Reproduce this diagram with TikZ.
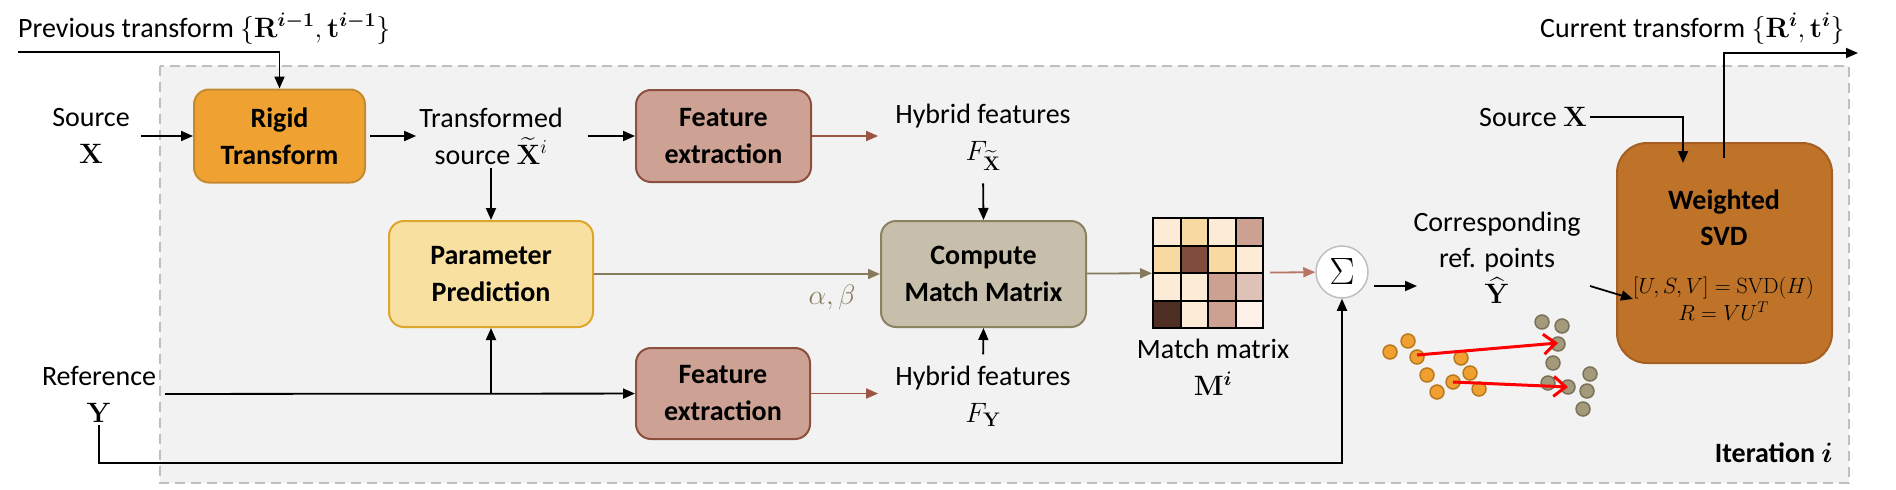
\RequirePackage{fix-cm}
\documentclass[tikz,border=0pt]{standalone}
\usepackage{amsmath}
\usepackage[no-math]{fontspec}
\setmainfont{Carlito}
\usetikzlibrary{arrows.meta}
\definecolor{bgF}{HTML}{F2F2F2}
\definecolor{bgD}{HTML}{BFBFBF}
\definecolor{rigidF}{HTML}{EFA232}
\definecolor{rigidD}{HTML}{C58A30}
\definecolor{featF}{HTML}{CDA193}
\definecolor{featD}{HTML}{8E4F3F}
\definecolor{paramF}{HTML}{F8E0A0}
\definecolor{paramD}{HTML}{DEA62B}
\definecolor{compF}{HTML}{C7BFAC}
\definecolor{compD}{HTML}{8C8262}
\definecolor{svdF}{HTML}{BE7329}
\definecolor{svdD}{HTML}{A65F22}
\definecolor{olive}{HTML}{857A5C}
\definecolor{brownA}{HTML}{9C5545}
\definecolor{brownB}{HTML}{B87563}
\definecolor{ptO}{HTML}{F0A030}
\definecolor{ptOD}{HTML}{B8791E}
\definecolor{ptG}{HTML}{A39A7C}
\definecolor{ptGD}{HTML}{7A7256}
\definecolor{mA}{HTML}{FCEBD7}
\definecolor{mB}{HTML}{F8D9A1}
\definecolor{mC}{HTML}{CDA192}
\definecolor{mD}{HTML}{7F4B3B}
\definecolor{mE}{HTML}{DFC2B7}
\definecolor{mF}{HTML}{4F2F24}
\definecolor{mG}{HTML}{FDF1E9}
\begin{document}
\begin{tikzpicture}[x=1pt,y=-1pt,
  font=\fontsize{28}{37}\selectfont,
  arr/.style={-{Triangle[length=12pt,width=10pt]}, line width=1.8pt},
  box/.style={rectangle, rounded corners=15pt, line width=2pt, align=center,
    font=\fontsize{28}{37}\selectfont\bfseries, inner sep=0pt},
  lab/.style={align=center, inner sep=3pt},
  ptorange/.style={fill=ptO, draw=ptOD, line width=1.5pt},
  ptgray/.style={fill=ptG, draw=ptGD, line width=1.5pt},
  redarr/.style={draw=red, line width=3pt, -{Straight Barb[length=12pt,width=20pt,line width=3pt]}},
  gridl/.style={line width=2pt}
]
\useasboundingbox (0,0) rectangle (1896,490);
% background iteration box
\draw[fill=bgF, draw=bgD, line width=2pt, dash pattern=on 10pt off 6pt] (160,66) rectangle (1849,483);

% nodes
\node[anchor=base west, inner sep=0pt] (prev) at (18,37)
  {Previous transform $\{\mathbf{R}^{\boldsymbol{i-1}},\mathbf{t}^{\boldsymbol{i-1}}\}$};
\coordinate (prevstart) at (18,52);

\node[lab] (srcX) at (91,136) {Source\\$\mathbf{X}$};
\node[box, fill=rigidF, draw=rigidD, minimum width=171pt, minimum height=93pt] (rigid) at (279.5,136) {Rigid\\Transform};
\node[lab] (trans) at (491,136) {Transformed\\source $\widetilde{\mathbf{X}}^{i}$};
\node[box, fill=featF, draw=featD, minimum width=175pt, minimum height=92pt] (feat1) at (723.5,136) {Feature\\extraction};
\node[lab] (hyb1) at (983,137) {Hybrid features\\$F_{\widetilde{\mathbf{X}}}$};

\node[box, fill=paramF, draw=paramD, minimum width=204pt, minimum height=106pt] (param) at (491,274) {Parameter\\Prediction};
\node[box, fill=compF, draw=compD, minimum width=205pt, minimum height=106pt] (comp) at (983.5,274) {Compute\\Match Matrix};
\node[text=olive, anchor=base] (ab) at (832,304) {$\alpha,\beta$};

% match matrix
\foreach \r/\cc/\col in {0/0/mA,0/1/mB,0/2/mA,0/3/mC,
                         1/0/mB,1/1/mD,1/2/mB,1/3/mA,
                         2/0/mA,2/1/mA,2/2/mC,2/3/mE,
                         3/0/mF,3/1/mA,3/2/mC,3/3/mG}
  \fill[\col] ({1153+27.5*\cc},{218+27.5*\r}) rectangle ++(27.5,27.5);
\foreach \k in {1,2,3} {
  \draw[gridl] ({1153+27.5*\k},218) -- ({1153+27.5*\k},328);
  \draw[gridl] (1153,{218+27.5*\k}) -- (1263,{218+27.5*\k});
}
\node[draw, line width=2pt, minimum size=110pt, inner sep=0pt] (mat) at (1208,273) {};
\node[lab] (mm) at (1213,367) {Match matrix\\$\mathbf{M}^{\boldsymbol{i}}$};

\node[circle, draw=bgD, fill=white, line width=1.5pt, minimum size=52pt, inner sep=0pt,
  font=\fontsize{38}{40}\selectfont] (sigma) at (1342,272) {$\Sigma$};

\node[lab, font=\fontsize{28}{36}\selectfont] (corr) at (1497,258) {Corresponding\\ref. points\\$\widehat{\mathbf{Y}}$};

\node[box, fill=svdF, draw=svdD, rounded corners=30pt, minimum width=215pt, minimum height=220pt] (svd) at (1724.5,253) {};
\node[align=center, font=\fontsize{28}{36}\selectfont\bfseries, inner sep=0pt] (svdt) at (1724,218) {Weighted\\SVD};
\node[align=center, font=\fontsize{22}{27}\selectfont, inner sep=0pt, anchor=west] (svdf) at (1633,299)
  {$[U,S,V]=\mathrm{SVD}(H)$\\$R=VU^{T}$};

\node[lab] (srcX2) at (1533,117) {Source $\mathbf{X}$};
\node[anchor=base west, inner sep=0pt] (cur) at (1540,37)
  {Current transform $\{\mathbf{R}^{\boldsymbol{i}},\mathbf{t}^{\boldsymbol{i}}\}$};

\node[lab] (refY) at (99,394) {Reference\\$\mathbf{Y}$};
\node[box, fill=featF, draw=featD, minimum width=174pt, minimum height=91pt] (feat2) at (723,393.5) {Feature\\extraction};
\node[lab] (hyb2) at (983,396) {Hybrid features\\$F_{\mathbf{Y}}$};

\node[anchor=base east, inner sep=0pt, font=\fontsize{28}{37}\selectfont\bfseries] (iter) at (1833,462) {Iteration $\boldsymbol{i}$};

% coordinates for free ends
\coordinate (sigout) at (1374,286);
\coordinate (corrin) at (1417,286);
\coordinate (corrout) at (1590,286);
\coordinate (svdin) at (1683,163);
\coordinate (svdout) at (1724,158);
\coordinate (curend) at (1858,53);
\coordinate (ylow) at (99,463);

% connectors
\draw[arr] (prevstart) -| (rigid.north);
\draw[arr, shorten <=8pt] (srcX) -- (rigid);
\draw[arr, shorten <=4pt] (rigid) -- (trans);
\draw[arr, shorten <=22pt] (trans) -- (feat1);
\draw[-{Triangle[length=12pt,width=10pt]}, line width=1.8pt, draw=brownA, fill=brownA, shorten >=14pt] (feat1) -- (hyb1.west |- feat1.east);
\draw[arr] (trans.south) -- (param.north);
\draw[arr, shorten <=10pt] (hyb1.south) -- (comp.north);
\draw[-{Triangle[length=12pt,width=10pt]}, line width=1.8pt, draw=olive, fill=olive] (param) -- (comp);
\draw[-{Triangle[length=12pt,width=10pt]}, line width=1.8pt, draw=olive, fill=olive] (comp) -- (mat);
\draw[-{Triangle[length=12pt,width=10pt]}, line width=1.8pt, draw=brownB, fill=brownB, shorten <=6pt] (mat) -- (sigma);
\draw[arr] (sigout) -- (corrin);
\draw[arr] (corrout) -- (svdf.west);
\draw[arr] (srcX2.east) -| (svdin);
\draw[arr] (svdout) |- (curend);
\draw[arr, shorten <=6pt] (refY) -- (feat2);
\draw[arr] (param.south |- feat2.west) -- (param.south);
\draw[-{Triangle[length=12pt,width=10pt]}, line width=1.8pt, draw=brownA, fill=brownA, shorten >=14pt] (feat2) -- (hyb2.west |- feat2.east);
\draw[arr, shorten <=8pt] (hyb2.north) -- (comp.south);
\draw[arr] (refY.south) -- (ylow) -| (sigma.south);

% point clouds
\foreach \p in {(1390,352),(1408,341),(1417,357),(1461,358),(1427,375),(1470,373),(1453,382),(1479,389),(1437,392)}
  \draw[ptorange] \p circle (7);
\foreach \p in {(1542,322),(1562,326),(1558,344),(1553,363),(1548,383),(1568,387),(1590,374),(1587,391),(1583,409)}
  \draw[ptgray] \p circle (7);
\draw[redarr] (1417,355) -- (1558,343);
\draw[redarr] (1453,382) -- (1568,387);
\end{tikzpicture}
\end{document}
